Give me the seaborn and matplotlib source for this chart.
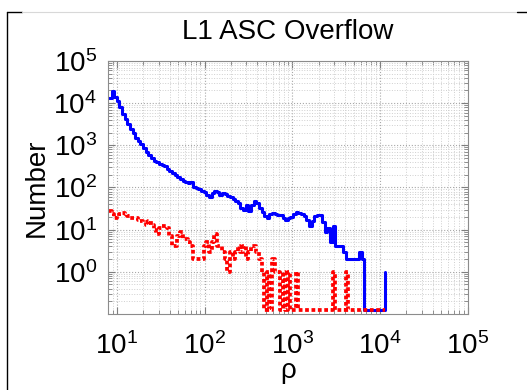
import numpy as np
import pandas as pd
import matplotlib
matplotlib.use("Agg")
import matplotlib.pyplot as plt
import seaborn as sns
from matplotlib.lines import Line2D
from matplotlib.ticker import LogLocator, NullFormatter, FixedLocator

# ---- data -------------------------------------------------------------
title = "L1 ASC Overflow"
x_label = "ρ"
y_label = "Number"

# histogram bins: log10(rho) of the first bin edge and bin width (decades)
log_rho_start = 0.91
log_bin_width = 0.03

# blue solid curve (counts per bin)
overflow_counts = [
    13500, 19500, 14100, 11000, 7900, 5500, 4200, 3200, 2500, 1950,
    1500, 1290, 1070, 850, 680, 575, 490, 435, 400, 355,
    340, 316, 275, 240, 220, 200, 178, 158, 145, 132,
    126, 138, 105, 95, 93, 83, 76, 66, 58, 72,
    83, 76, 66, 72, 69, 63, 58, 52, 48, 42,
    32, 30, 39, 28, 38, 47, 42, 33, 26, 21,
    19, 23, 25, 23, 22, 22, 19, 17, 19, 20,
    23, 26, 25, 23, 21, 17, 12, 16, 21, 22,
    22, 15, 9, 11, 5, 12, 4, 4, 4, 3,
    2, 2, 2, 2, 2, 3, 2, 0, 0, 0,
    0, 0, 0, 0, 0, 1,
]

# red dotted curve (counts per bin)
asc_counts = [
    28, 23, 19, 21, 23, 25, 23, 21, 19, 19,
    19, 17, 16, 15, 13, 16, 13, 10, 8, 11,
    12, 12, 11, 7, 4, 4, 7, 9, 6, 6,
    5, 4, 2, 2, 2, 2, 4, 5, 3, 5,
    8, 4, 4, 3, 2, 1, 3, 2, 3, 4,
    3, 4, 2, 3, 4, 4, 3, 2, 1, 0,
    1, 0, 2, 1, 1, 0, 1, 0, 1, 0,
    0, 1, 0, 0, 0, 0, 0, 0, 0, 0,
    0, 0, 0, 0, 0, 1, 0, 0, 0, 0,
    1, 0, 0, 0, 0, 0, 0, 0, 0, 0,
    0, 0, 0, 0, 0, 0,
]

x_ticks = [1e1, 1e2, 1e3, 1e4, 1e5]
y_ticks = [1e0, 1e1, 1e2, 1e3, 1e4, 1e5]
x_limits = (7.95, 1e5)
y_limits = (0.1, 1e5)
zero_level = 0.125   # where empty bins are drawn on the log axis

# ---- build stair data (MATLAB-style stairs: last value is a bare riser) ----
n_bins = len(overflow_counts)
edges = 10 ** (log_rho_start + log_bin_width * np.arange(n_bins))


def stairs(counts):
    y = np.asarray(counts, dtype=float)
    y = np.where(y > 0, y, zero_level)
    return pd.DataFrame({"rho": edges, "count": y})


df_over = stairs(overflow_counts)
df_asc = stairs(asc_counts)

# ---- style --------------------------------------------------------------
sns.set_theme(style="white")
plt.rcParams["font.family"] = ["Liberation Sans", "DejaVu Sans"]
plt.rcParams["lines.dash_capstyle"] = "butt"

fig = plt.figure(figsize=(5.27, 3.9), dpi=100)
fig.patch.set_facecolor("white")
ax = fig.add_axes([0.205, 0.195, 0.8875 - 0.205, 0.8436 - 0.195])

ax.set_xscale("log")
ax.set_yscale("log")

sns.lineplot(data=df_over, x="rho", y="count", ax=ax, color=(0, 0, 1),
             linewidth=2.2, drawstyle="steps-post", estimator=None,
             sort=False, legend=False)
sns.lineplot(data=df_asc, x="rho", y="count", ax=ax, color=(1, 0, 0),
             linewidth=2.7, drawstyle="steps-post", estimator=None,
             sort=False, legend=False, dashes=False)
ax.lines[-1].set_linestyle((0, (1.0, 0.7)))

ax.set_xlim(*x_limits)
ax.set_ylim(*y_limits)
ax.xaxis.set_major_locator(FixedLocator(x_ticks))
ax.yaxis.set_major_locator(FixedLocator(y_ticks))
ax.xaxis.set_minor_locator(LogLocator(base=10, subs=np.arange(2, 10), numticks=20))
ax.yaxis.set_minor_locator(LogLocator(base=10, subs=np.arange(2, 10), numticks=20))
ax.xaxis.set_minor_formatter(NullFormatter())
ax.yaxis.set_minor_formatter(NullFormatter())
ax.set_xticklabels([r"$\mathdefault{10^{%d}}$" % int(np.log10(v)) for v in x_ticks])
ax.set_yticklabels([r"$\mathdefault{10^{%d}}$" % int(np.log10(v)) for v in y_ticks])

ax.grid(True, which="major", linestyle=":", color="#a8a8a8", linewidth=0.8)
ax.grid(True, which="minor", linestyle=":", color="#cfcfcf", linewidth=0.7)
ax.set_axisbelow(True)

ax.tick_params(which="both", direction="in", top=True, right=True,
               bottom=True, left=True, color="#7f7f7f", labelsize=20,
               labelcolor="black")
ax.tick_params(which="major", length=5, width=0.8)
ax.tick_params(axis="y", which="major", pad=8)
ax.tick_params(axis="x", which="major", pad=13)
ax.tick_params(which="minor", length=3, width=0.6)
for s in ax.spines.values():
    s.set_color("#8c8c8c")
    s.set_linewidth(0.8)

ax.set_title(title, fontsize=20, color="black", pad=16)
ax.set_xlabel(x_label, fontsize=20, labelpad=-1, color="black")
ax.set_ylabel(y_label, fontsize=20, labelpad=3, color="black")

# figure border fragments
W, H = 527.0, 390.0
fig.add_artist(Line2D([7 / W, 7 / W], [0, 1 - 12 / H], color="black", lw=1.0,
                      transform=fig.transFigure))
fig.add_artist(Line2D([7 / W, 22 / W], [1 - 12 / H, 1 - 12 / H], color="black",
                      lw=1.0, transform=fig.transFigure))
fig.add_artist(Line2D([22 / W, 517 / W], [1 - 12 / H, 1 - 12 / H], color="#d8d8d8",
                      lw=0.8, transform=fig.transFigure))
fig.add_artist(Line2D([517 / W, 1], [1 - 12 / H, 1 - 12 / H], color="black",
                      lw=1.0, transform=fig.transFigure))

fig.savefig("out.png", dpi=100, facecolor="white")
